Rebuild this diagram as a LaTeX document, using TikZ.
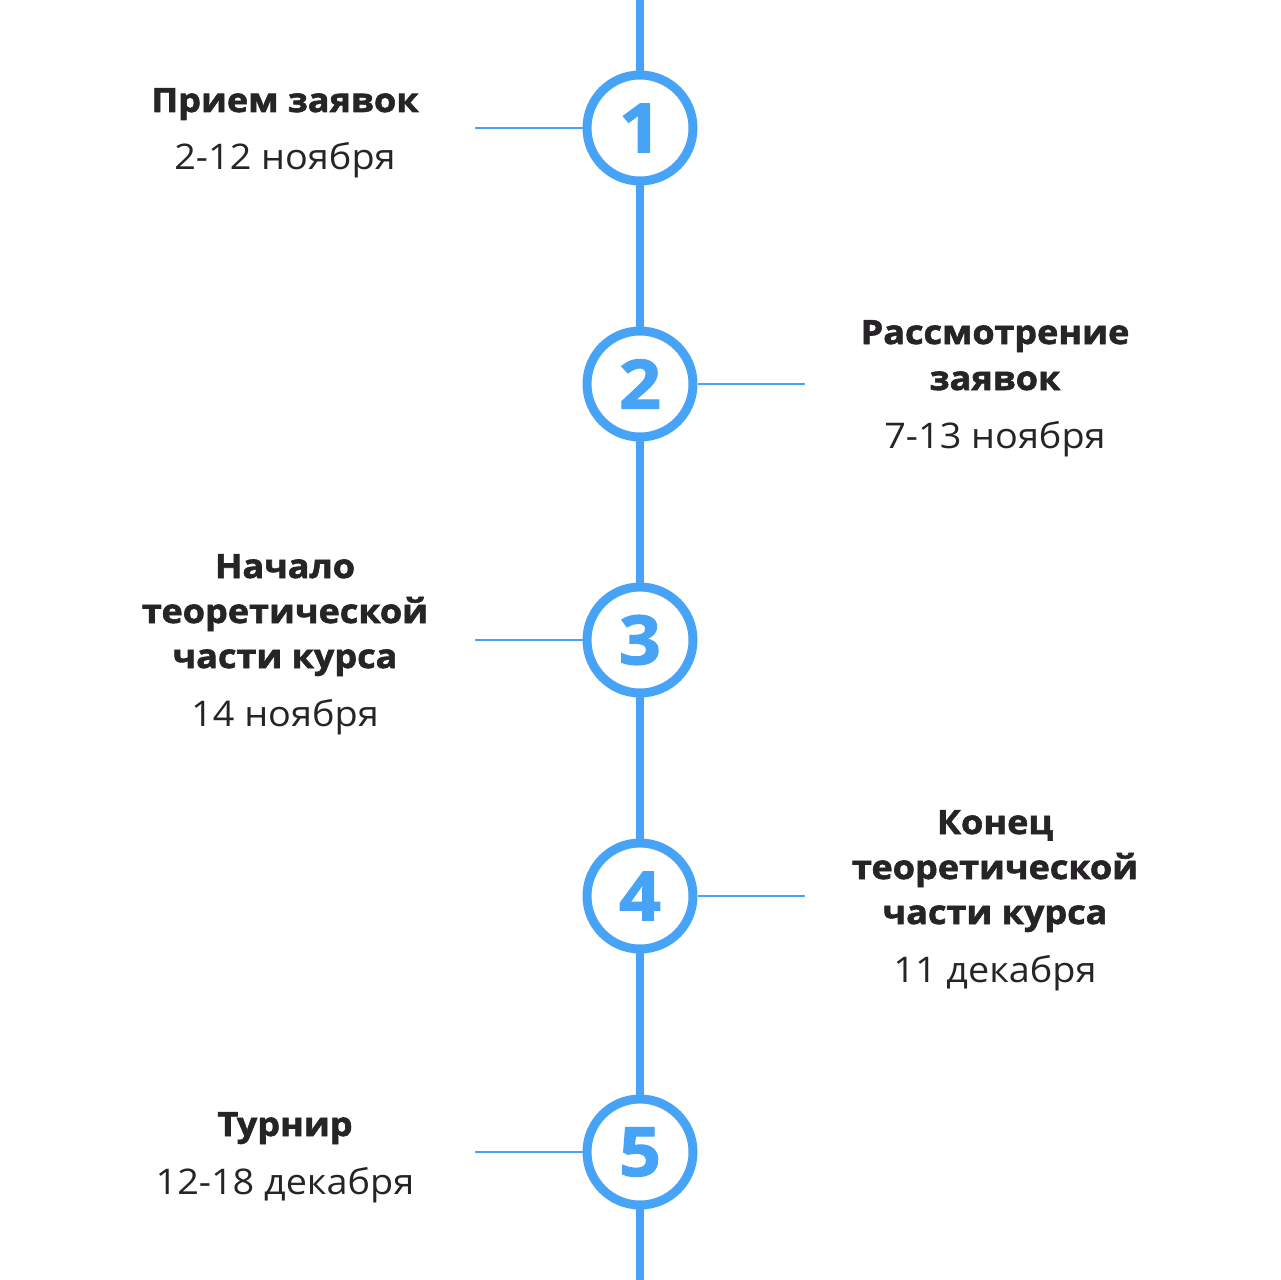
\documentclass[tikz,border=0pt]{standalone}
\usepackage{fontspec}
\setmainfont{Open Sans}[FakeStretch=1.07]
\newfontfamily\heavy{Open Sans}[BoldFeatures={FakeBold=1.8,FakeStretch=1.08}]
\definecolor{tlblue}{HTML}{47A3F6}
\definecolor{tldark}{HTML}{262426}
\begin{document}
\begin{tikzpicture}[x=0.75pt,y=-0.75pt,
  spine/.style={draw=tlblue,line width=6.5pt},
  tick/.style={draw=tlblue,line width=2.2pt},
  circ/.style={circle,draw=tlblue,line width=6.75pt,fill=white,minimum size=79.5pt,inner sep=0pt,
    font=\heavy\bfseries\fontsize{51}{51}\selectfont,text=tlblue},
  ttl/.style={anchor=base,font=\heavy\bfseries\fontsize{25}{30}\selectfont,text=tldark,inner sep=0pt},
  dt/.style={anchor=base,font=\fontsize{26.5}{30}\selectfont,text=tldark,inner sep=0pt}]
\useasboundingbox (0,0) rectangle (1280,1280);
\fill[white] (0,0) rectangle (1280,1280);
\coordinate (top) at (640,0);
\coordinate (bot) at (640,1280);
\draw[spine] (top) -- (bot);
\coordinate (l1) at (475,128);
\coordinate (r2) at (805,384);
\coordinate (l3) at (475,640);
\coordinate (r4) at (805,896);
\coordinate (l5) at (475,1152);
\node[circ] (c1) at (640,128) {1};
\node[circ] (c2) at (640,384) {2};
\node[circ] (c3) at (640,640) {3};
\node[circ] (c4) at (640,896) {4};
\node[circ] (c5) at (640,1152) {5};
\draw[tick] (l1) -- (c1.west);
\draw[tick] (c2.east) -- (r2);
\draw[tick] (l3) -- (c3.west);
\draw[tick] (c4.east) -- (r4);
\draw[tick] (l5) -- (c5.west);
% 1
\node[ttl] (t1a) at (285,112) {Прием заявок};
\node[dt] (d1) at (285,170) {2-12 ноября};
% 2
\node[ttl] (t2a) at (995,344) {Рассмотрение};
\node[ttl] (t2b) at (995,390) {заявок};
\node[dt] (d2) at (995,448) {7-13 ноября};
% 3
\node[ttl] (t3a) at (285,578) {Начало};
\node[ttl] (t3b) at (285,623) {теоретической};
\node[ttl] (t3c) at (285,668) {части курса};
\node[dt] (d3) at (285,726) {14 ноября};
% 4
\node[ttl] (t4a) at (995,834) {Конец};
\node[ttl] (t4b) at (995,879) {теоретической};
\node[ttl] (t4c) at (995,924) {части курса};
\node[dt] (d4) at (995,982) {11 декабря};
% 5
\node[ttl] (t5a) at (285,1136) {Турнир};
\node[dt] (d5) at (285,1194) {12-18 декабря};
\end{tikzpicture}
\end{document}
